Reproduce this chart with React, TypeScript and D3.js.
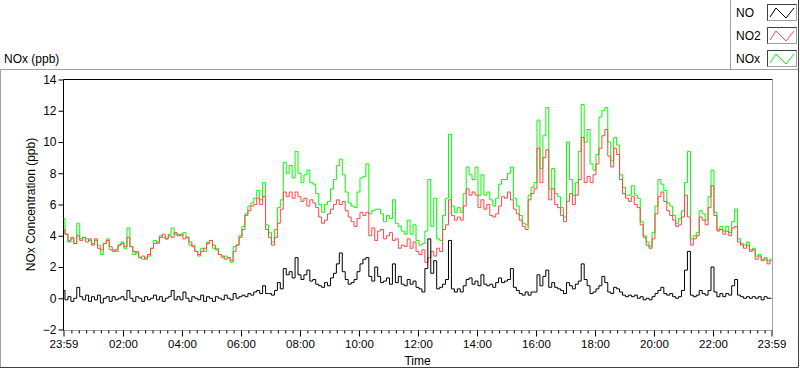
import React, { useRef, useEffect } from 'react';
import * as d3 from 'd3';

// one sample every 6 minutes, starting 23:59
const STEP_MIN = 6;

const no2 = [
  4.4, 4.1, 3.6, 3.9, 3.5, 4.0, 3.7, 3.9, 3.6, 3.8,
  3.4, 3.8, 3.2, 3.1, 3.5, 3.7, 3.3, 3.0, 3.1, 3.4,
  3.5, 3.3, 3.9, 3.3, 3.0, 2.9, 2.6, 2.7, 2.5, 2.8,
  3.2, 3.5, 3.6, 3.9, 4.1, 3.8, 4.0, 3.9, 4.2, 4.0,
  4.1, 3.8, 3.9, 3.6, 3.3, 3.0, 2.8, 3.0, 3.2, 3.5,
  3.7, 3.4, 3.1, 2.8, 2.7, 2.5, 2.6, 2.4, 3.0, 3.4,
  3.9, 4.4, 5.3, 5.6, 5.9, 6.0, 6.4, 6.0, 6.5, 4.4,
  3.9, 3.4, 3.9, 4.8, 5.7, 6.8, 6.5, 6.8, 6.4, 6.8,
  6.5, 6.2, 6.4, 5.9, 6.3, 6.1, 5.8, 5.2, 4.8, 5.0,
  5.4, 5.7, 6.0, 6.3, 6.0, 6.2, 5.6, 5.2, 4.9, 4.6,
  5.1, 5.5, 5.3, 5.5, 4.0, 4.5, 3.7, 4.3, 4.4, 3.8,
  4.0, 4.2, 3.7, 3.8, 3.2, 3.4, 3.3, 3.8, 3.2, 3.6,
  3.0, 2.8, 3.1, 2.3, 2.6, 3.0, 2.7, 3.2, 3.0, 4.4,
  4.7, 6.3, 5.3, 5.0, 5.2, 5.0, 5.9, 7.0, 6.6, 6.8,
  6.6, 5.8, 6.3, 5.7, 6.0, 5.3, 5.2, 5.4, 5.9, 6.5,
  6.4, 6.8, 6.3, 5.7, 5.4, 5.0, 4.6, 4.4, 6.3, 6.7,
  7.0, 9.6, 7.4, 9.0, 9.5, 6.3, 7.0, 6.0, 5.8, 5.3,
  4.9, 6.2, 6.7, 6.0, 6.6, 7.6, 10.3, 7.4, 7.8, 7.4,
  7.9, 8.6, 9.6, 10.4, 10.8, 9.1, 8.4, 9.6, 9.2, 7.6,
  6.7, 6.4, 6.2, 6.5, 6.0, 5.8, 4.7, 3.9, 3.4, 3.2,
  3.8, 5.4, 6.5, 6.8, 6.2, 5.6, 5.3, 5.0, 4.6, 4.7,
  5.2, 6.6, 5.2, 3.4, 3.8, 4.0, 5.2, 5.0, 4.7, 5.8,
  7.2, 5.3, 4.3, 4.4, 4.1, 4.3, 4.0, 4.5, 4.6, 3.6,
  3.4, 3.2, 3.4, 3.0, 3.1, 2.5, 2.7, 2.4, 2.5, 2.2, 2.4,
];

const no = [
  0.5, -0.1, 0.1, -0.2, 0.0, 0.7, 0.1, -0.1, 0.2, -0.2,
  0.1, -0.1, 0.2, -0.3, 0.0, 0.1, -0.2, 0.1, -0.1, 0.0,
  0.1, -0.1, 0.5, 0.0, -0.2, 0.1, 0.0, -0.2, 0.1, -0.1,
  0.0, 0.2, -0.1, 0.1, -0.2, 0.0, 0.1, 0.5, -0.1, 0.1,
  -0.1, 0.4, 0.0, -0.2, 0.1, 0.0, -0.1, 0.2, -0.2, 0.1,
  0.0, -0.2, 0.1, 0.0, -0.1, 0.2, 0.0, -0.1, 0.3, 0.0,
  0.1, 0.2, 0.1, 0.3, 0.2, 0.4, 0.5, 0.3, 0.8, 0.3,
  0.3, 0.2, 0.5, 1.0, 0.6, 1.9, 1.5, 1.7, 1.3, 2.6,
  1.5, 1.2, 1.5, 1.8, 1.1, 1.2, 0.9, 0.8, 0.7, 1.0,
  0.8, 1.3, 1.6, 2.2, 2.9, 1.7, 1.2, 0.9, 1.0, 1.2,
  1.7, 2.2, 2.5, 2.6, 1.4, 1.1, 2.0, 1.4, 1.0, 1.1,
  1.3, 0.9, 2.2, 1.0, 1.4, 0.9, 0.8, 1.2, 0.9, 1.1,
  0.7, 0.6, 0.4, 1.9, 3.8, 1.6, 2.4, 0.6, 0.7, 0.9,
  1.2, 3.7, 0.6, 0.4, 0.6, 0.4, 0.8, 1.2, 1.3, 0.9,
  1.1, 0.8, 1.5, 0.9, 0.8, 0.9, 0.7, 1.0, 1.3, 1.0,
  1.1, 1.2, 1.9, 0.7, 0.5, 0.3, 0.2, 0.4, 0.2, 0.4,
  0.4, 1.5, 0.8, 1.4, 1.8, 0.7, 1.0, 0.7, 0.6, 0.5,
  0.3, 1.0, 0.8, 0.6, 0.9, 1.1, 2.2, 1.2, 0.8, 0.3,
  0.4, 0.6, 0.8, 1.4, 1.0, 0.4, 0.3, 0.7, 0.6, 0.4,
  0.2, 0.1, 0.2, 0.1, 0.2, 0.0, 0.1, -0.1, 0.0, -0.1,
  0.1, 0.3, 0.5, 0.7, 0.3, 0.2, 0.3, 0.1, 0.0, 0.1,
  0.5, 1.8, 3.0, 0.2, 0.1, 0.2, 0.5, 0.3, 0.2, 0.5,
  2.0, 0.4, 0.1, 0.3, 0.1, 0.3, 0.2, 0.8, 1.2, 0.2,
  0.1, 0.0, 0.1, 0.0, 0.1, 0.0, 0.1, -0.1, 0.1, 0.0, 0.0,
];

const nox = [
  5.1, 4.1, 3.7, 3.8, 3.5, 4.8, 3.8, 3.9, 3.8, 3.7,
  3.5, 3.7, 3.4, 2.8, 3.5, 3.8, 3.1, 3.1, 3.0, 3.4,
  3.6, 3.2, 4.5, 3.3, 2.8, 3.0, 2.6, 2.5, 2.6, 2.7,
  3.2, 3.7, 3.5, 4.0, 3.9, 3.8, 4.1, 4.5, 4.1, 4.1,
  4.0, 4.2, 3.9, 3.4, 3.4, 3.0, 2.7, 3.2, 3.0, 3.6,
  3.7, 3.2, 3.2, 2.8, 2.6, 2.7, 2.6, 2.3, 3.3, 3.4,
  4.0, 4.6, 5.4, 5.9, 6.1, 6.4, 6.9, 6.3, 7.4, 4.7,
  4.2, 3.6, 4.4, 5.8, 6.3, 8.7, 8.0, 8.5, 7.7, 9.4,
  8.0, 7.4, 7.9, 8.2, 7.4, 7.3, 6.7, 6.0, 5.5, 6.0,
  6.2, 7.0, 7.6, 8.5, 8.9, 7.9, 6.8, 6.1, 5.9, 5.8,
  6.8, 7.7, 7.8, 8.6, 5.4, 5.6, 5.7, 5.7, 5.4, 4.9,
  5.3, 5.1, 6.3, 4.8, 4.6, 4.3, 4.1, 5.0, 4.1, 4.7,
  3.7, 3.4, 3.5, 4.3, 7.6, 4.6, 6.4, 3.8, 3.7, 5.3,
  6.4, 10.5, 5.9, 5.5, 5.8, 5.5, 6.7, 8.4, 7.9, 7.6,
  8.4, 6.6, 7.9, 6.6, 6.8, 6.3, 5.9, 6.4, 7.3, 7.6,
  7.6, 8.0, 8.4, 6.4, 5.9, 5.3, 4.8, 4.7, 6.6, 7.1,
  7.4, 11.4, 8.3, 10.4, 12.2, 7.0, 8.3, 6.7, 6.5, 5.8,
  5.2, 10.0, 7.6, 6.6, 7.4, 9.4, 12.4, 10.0, 10.8, 8.6,
  8.2, 9.2, 11.6, 12.0, 12.2, 10.0, 8.8, 10.3, 9.8, 7.9,
  7.1, 6.6, 6.6, 7.2, 6.6, 6.4, 4.9, 4.0, 3.6, 3.3,
  4.2, 5.9, 7.6, 7.3, 6.9, 6.1, 5.9, 5.3, 4.8, 5.1,
  5.6, 7.4, 9.4, 3.8, 4.0, 4.2, 5.6, 5.4, 5.0, 6.5,
  8.2, 5.5, 4.4, 4.6, 4.3, 4.6, 4.2, 4.9, 5.7, 3.8,
  3.5, 3.4, 3.6, 3.1, 3.2, 2.7, 2.8, 2.5, 2.6, 2.4, 2.5,
];

const yTicks = [-2, 0, 2, 4, 6, 8, 10, 12, 14];
const xTickLabels = ['23:59', '02:00', '04:00', '06:00', '08:00', '10:00', '12:00',
  '14:00', '16:00', '18:00', '20:00', '22:00', '23:59'];
const legendNames = ['NO', 'NO2', 'NOx'];

const COLORS = { NO: '#000000', NO2: '#ff4646', NOx: '#00ff00' };
const FONT = '"Liberation Sans", Arial, sans-serif';

const App = () => {
  const svgRef = useRef();

  useEffect(() => {
    const svg = d3.select(svgRef.current);
    svg.selectAll('*').remove();

    const start = new Date(2000, 0, 1, 23, 59);
    const end = new Date(2000, 0, 2, 23, 59);
    const left = 63.5, right = 771.5, top = 79.5, bottom = 329.5;

    const x = d3.scaleTime().domain([start, end]).range([left, right]);
    const y = d3.scaleLinear().domain([-2, 14]).range([bottom, top]);

    const timeAt = i => new Date(start.getTime() + i * STEP_MIN * 60000);

    const majorTicks = xTickLabels.map((lab, i) => {
      if (i === 0) return start;
      if (i === xTickLabels.length - 1) return end;
      const [h, m] = lab.split(':').map(Number);
      return new Date(2000, 0, 2, h, m);
    });
    const minorTicks = d3.timeMinute.every(15).range(start, end)
      .filter(d => !majorTicks.some(m => Math.abs(m - d) < 120000));

    // outer frame
    svg.append('path').attr('d', 'M0.5,368 V69.5 H798').attr('fill', 'none').attr('stroke', '#a0a0a0');
    svg.append('path').attr('d', 'M0,367.5 H798.5 V0').attr('fill', 'none').attr('stroke', '#404040');
    svg.append('text').attr('x', 4).attr('y', 63).text('NOx (ppb)')
      .attr('font-family', FONT).attr('font-size', '12px').attr('fill', '#000');

    // legend
    const legend = svg.append('g');
    legend.append('path').attr('d', 'M730.5,0 V69.5').attr('stroke', '#a0a0a0');
    legendNames.forEach((name, i) => {
      const ly = 4 + i * 23;
      legend.append('text').attr('x', 736).attr('y', ly + 13).text(name)
        .attr('font-family', FONT).attr('font-size', '12px').attr('fill', '#000');
      legend.append('rect').attr('x', 767.5).attr('y', ly + 0.5).attr('width', 29).attr('height', 16)
        .attr('fill', '#fff').attr('stroke', '#a0a0a0');
      legend.append('path').attr('d', `M767.5,${ly + 16.5} V${ly + 0.5} H796.5`)
        .attr('fill', 'none').attr('stroke', '#404040');
      legend.append('path')
        .attr('d', `M770,${ly + 13} L776,${ly + 4} L786,${ly + 14} L794,${ly + 4}`)
        .attr('fill', 'none').attr('stroke', COLORS[name]).attr('stroke-width', 1);
    });

    // plot borders
    svg.append('path').attr('d', `M${left},${top} H${right + 1}`).attr('stroke', '#000');
    svg.append('path').attr('d', `M${right + 1},${top} V${bottom + 1}`).attr('stroke', '#a0a0a0');
    svg.append('path').attr('d', `M${left},${bottom + 1} H${right + 1.5}`).attr('stroke', '#a0a0a0');
    svg.append('path').attr('d', `M${left},${top} V${bottom + 1}`).attr('stroke', '#000');

    // series: LabVIEW-like stepped traces
    const line = d3.line().x((d, i) => x(timeAt(i))).y(d => y(d)).curve(d3.curveStep);
    const plot = svg.append('g');
    [[nox, COLORS.NOx], [no2, COLORS.NO2], [no, COLORS.NO]].forEach(([vals, col]) => {
      plot.append('path').datum(vals).attr('d', line)
        .attr('fill', 'none').attr('stroke', col).attr('stroke-width', 1);
    });

    // y axis
    const yAxis = svg.append('g').attr('transform', `translate(${left},0)`)
      .call(d3.axisLeft(y).tickValues(yTicks).tickSize(5).tickPadding(2).tickFormat(d3.format('d')));
    yAxis.select('.domain').remove();
    yAxis.selectAll('text').attr('font-family', FONT).attr('font-size', '12px').attr('fill', '#000');

    // x axis
    const xMinor = svg.append('g').attr('transform', `translate(0,${bottom + 1})`)
      .call(d3.axisBottom(x).tickValues(minorTicks).tickSize(3).tickFormat(() => ''));
    xMinor.select('.domain').remove();
    const xAxis = svg.append('g').attr('transform', `translate(0,${bottom + 1})`)
      .call(d3.axisBottom(x).tickValues(majorTicks).tickSize(6).tickPadding(3)
        .tickFormat((d, i) => xTickLabels[i]));
    xAxis.select('.domain').remove();
    xAxis.selectAll('text').attr('font-family', FONT).attr('font-size', '11.5px').attr('fill', '#000');

    // axis titles
    svg.append('text').attr('x', (left + right) / 2).attr('y', 365).attr('text-anchor', 'middle')
      .text('Time').attr('font-family', FONT).attr('font-size', '12px').attr('fill', '#000');
    svg.append('text').attr('transform', `translate(35,${(top + bottom) / 2}) rotate(-90)`)
      .attr('text-anchor', 'middle').text('NOx Concentration (ppb)')
      .attr('font-family', FONT).attr('font-size', '12px').attr('fill', '#000');
  }, []);

  return (
    <svg ref={svgRef} width={800} height={369}
      style={{ position: 'absolute', left: 0, top: 0, background: '#fff' }} />
  );
};

export default App;
